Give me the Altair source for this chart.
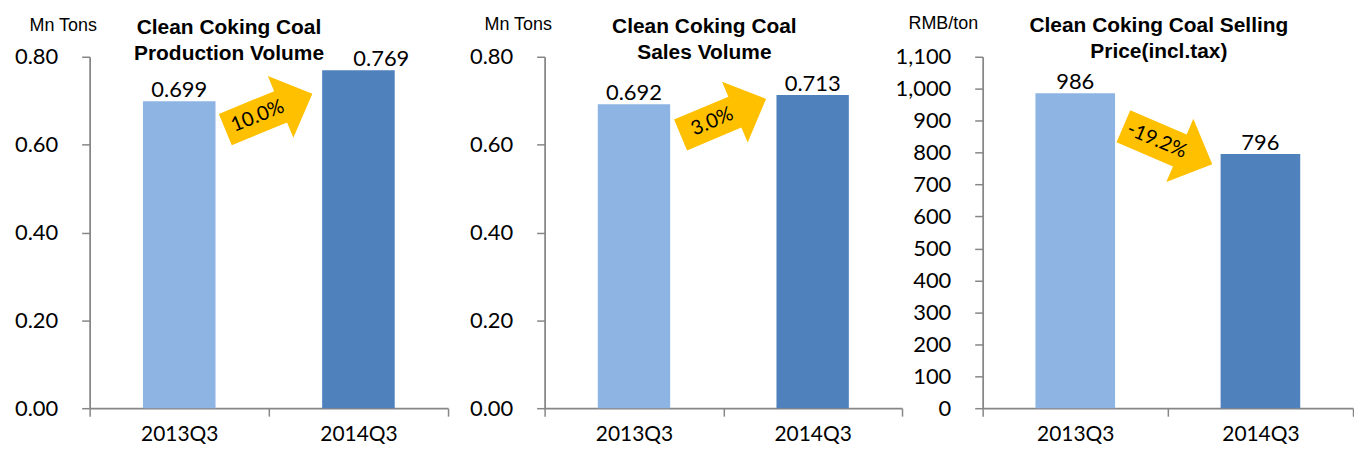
import altair as alt
import pandas as pd

# ---------------- data ----------------
categories = ["2013Q3", "2014Q3"]
production_volume = [0.699, 0.769]
sales_volume = [0.692, 0.713]
selling_price = [986, 796]
yoy_change = [0.100, 0.030, -0.192]
arrow_level = [0.675, 0.663, 823]

panel_titles = [
    ["Clean Coking Coal", "Production Volume"],
    ["Clean Coking Coal", "Sales Volume"],
    ["Clean Coking Coal Selling", "Price(incl.tax)"],
]
units = ["Mn Tons", "Mn Tons", "RMB/ton"]
volume_ticks = [0.0, 0.2, 0.4, 0.6, 0.8]
price_ticks = [0, 100, 200, 300, 400, 500, 600, 700, 800, 900, 1000, 1100]

# ---------------- style ----------------
BAR_COLORS = ["#8EB4E3", "#4F81BD"]
ARROW_COLOR = "#FFC000"
AXIS_COLOR = "#868686"
NUM_FONT = "Lato"
TITLE_FONT = "Liberation Sans"
ARROW_PATH = "M -1 -0.36 L 0.27 -0.36 L 0.27 -0.71 L 1 0 L 0.27 0.71 L 0.27 0.36 L -1 0.36 Z"

panel_cfg = [
    dict(width=360, height=353, domain=[0, 0.8], ticks=volume_ticks, fmt=".2f", vfmt=".3f",
         angle=337.6, tangle=338, asize=8950, bar=0.405, title_dx=-40, unit_x=-27, unit_y=-26,
         label_dx=[0, 23]),
    dict(width=359, height=353, domain=[0, 0.8], ticks=volume_ticks, fmt=".2f", vfmt=".3f",
         angle=337.1, tangle=337, asize=8690, bar=0.405, title_dx=-19, unit_x=-27, unit_y=-27,
         label_dx=[0, 0]),
    dict(width=372, height=353, domain=[0, 1100], ticks=price_ticks, fmt=",.0f", vfmt=",.0f",
         angle=23.2, tangle=23, asize=9430, bar=0.43, title_dx=-9, unit_x=-40, unit_y=-28,
         label_dx=[0, 0]),
]
series = [production_volume, sales_volume, selling_price]


def make_panel(i):
    cfg = panel_cfg[i]
    df = pd.DataFrame({"category": categories, "value": series[i]})
    adf = pd.DataFrame({"pos": [1.0], "value": [arrow_level[i]], "change": [yoy_change[i]]})

    y_enc = alt.Y(
        "value:Q",
        scale=alt.Scale(domain=cfg["domain"], nice=False, zero=True),
        axis=alt.Axis(
            values=cfg["ticks"], format=cfg["fmt"], grid=False,
            title=units[i], titleAngle=0, titleAlign="center", titleBaseline="alphabetic",
            titleX=cfg["unit_x"], titleY=cfg["unit_y"], titleFont=TITLE_FONT,
            titleFontSize=18, titleFontWeight="normal", titleColor="#000000",
            labelFont=NUM_FONT, labelFontSize=22, labelColor="#000000", labelPadding=24,
            tickSize=8, tickColor=AXIS_COLOR, tickWidth=1.5,
            domainColor=AXIS_COLOR, domainWidth=1.75,
        ),
    )
    x_band = alt.Scale(domain=categories, paddingInner=0, paddingOuter=0)
    x_enc = alt.X(
        "category:N", sort=categories, scale=x_band,
        axis=alt.Axis(
            title=None, labelAngle=0, tickBand="extent", grid=False,
            labelFont=NUM_FONT, labelFontSize=21, labelColor="#000000", labelPadding=7,
            tickSize=8, tickColor=AXIS_COLOR, tickWidth=1.5,
            domainColor=AXIS_COLOR, domainWidth=1.75,
        ),
    )
    x_plain = alt.X("category:N", sort=categories, scale=x_band, axis=None)
    x_arrow = alt.X("pos:Q", scale=alt.Scale(domain=[0, 2], nice=False, zero=False), axis=None)

    bars = alt.Chart(df).mark_bar(width=alt.RelativeBandSize(cfg["bar"])).encode(
        x=x_enc, y=y_enc,
        color=alt.Color("category:N", scale=alt.Scale(domain=categories, range=BAR_COLORS), legend=None),
    )
    label_layers = []
    for k, cat in enumerate(categories):
        label_layers.append(
            alt.Chart(df).transform_filter(alt.datum.category == cat).mark_text(
                baseline="alphabetic", dy=-4, dx=cfg["label_dx"][k],
                font=NUM_FONT, fontSize=22, color="#000000",
            ).encode(x=x_plain, y=y_enc, text=alt.Text("value:Q", format=cfg["vfmt"]))
        )

    arrow = alt.Chart(adf).mark_point(
        shape=ARROW_PATH, filled=True, fill=ARROW_COLOR, fillOpacity=1, opacity=1,
        strokeWidth=0, size=cfg["asize"], angle=cfg["angle"],
    ).encode(x=x_arrow, y=y_enc)
    arrow_text = alt.Chart(adf).transform_calculate(
        label="replace(format(datum.change, '.1%'), '\u2212', '-')"
    ).mark_text(
        angle=cfg["tangle"], dx=-12, baseline="middle", align="center",
        font=NUM_FONT, fontSize=20, color="#000000",
    ).encode(x=x_arrow, y=y_enc, text="label:N")

    return alt.layer(bars, *label_layers, arrow, arrow_text).resolve_scale(x="independent").properties(
        width=cfg["width"], height=cfg["height"],
        title=alt.TitleParams(
            text=panel_titles[i], font=TITLE_FONT, fontSize=21, fontWeight="bold",
            color="#000000", anchor="middle", dx=cfg["title_dx"], lineHeight=26, offset=-47,
        ),
    )


left = alt.hconcat(make_panel(0), make_panel(1), spacing=20)
chart = alt.hconcat(left, make_panel(2), spacing=-9).properties(
    padding={"left": 6, "top": 6, "right": 0, "bottom": 0}
).configure_view(stroke=None)

chart.save("out.html", embed_options={"renderer": "svg", "actions": False})
